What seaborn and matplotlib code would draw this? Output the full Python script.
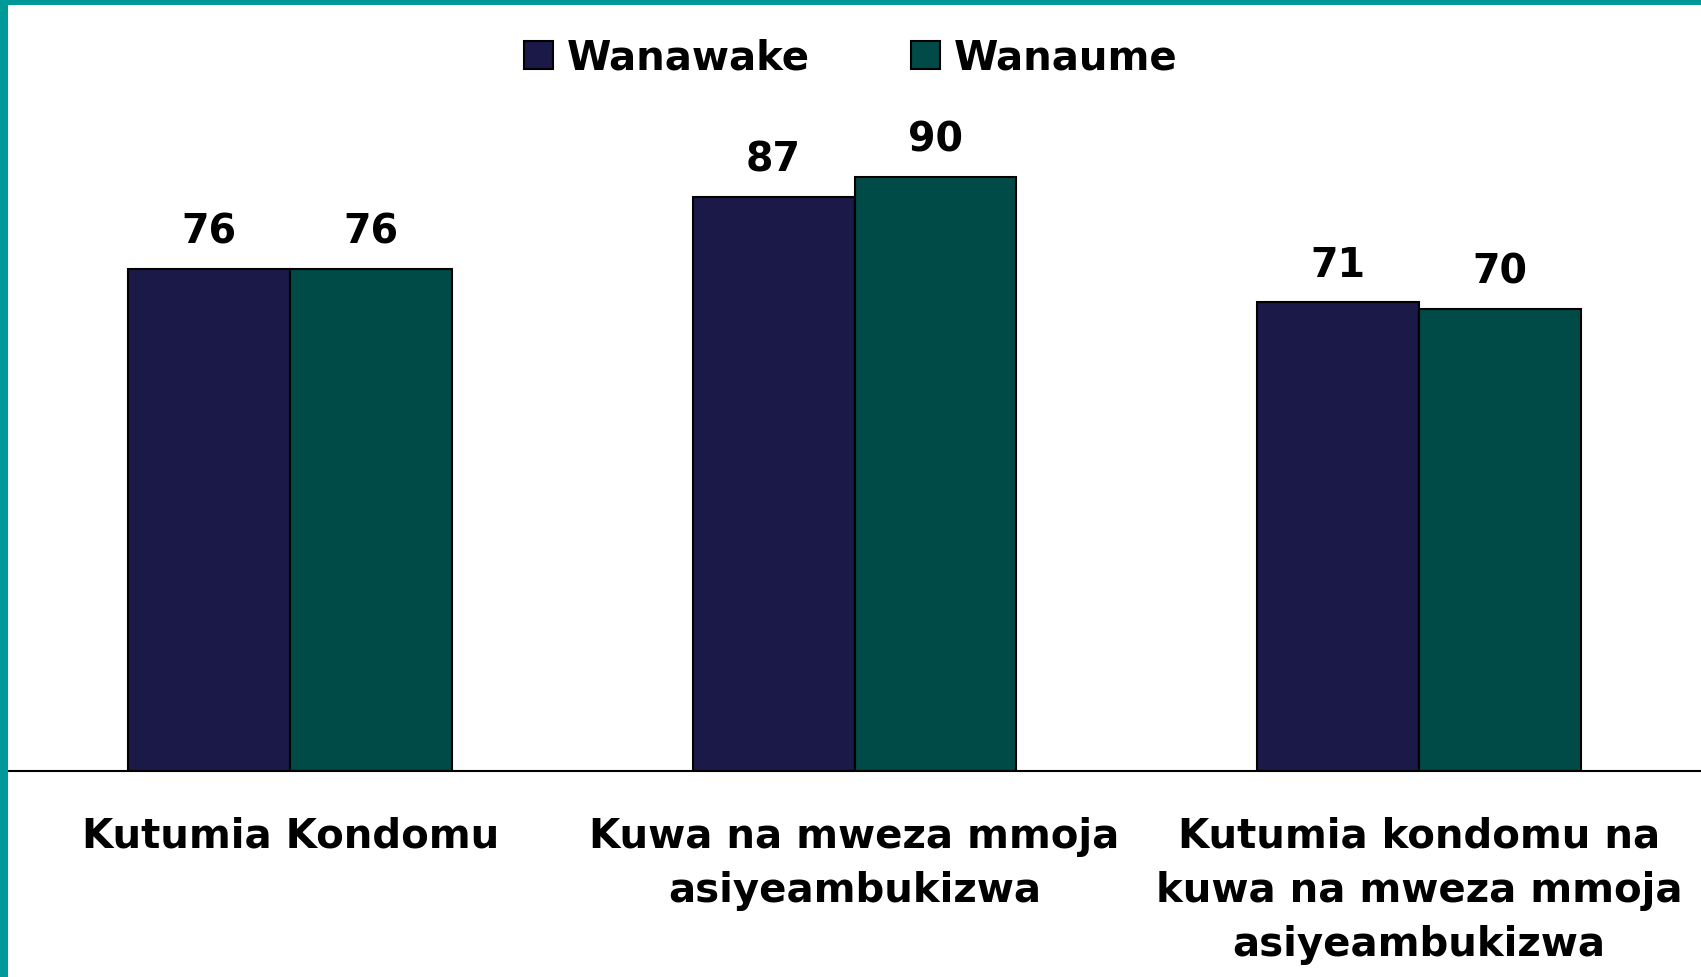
import pandas as pd
import seaborn as sns
import matplotlib.pyplot as plt
from matplotlib.patches import Rectangle

categories = ["Kutumia Kondomu",
              "Kuwa na mweza mmoja\nasiyeambukizwa",
              "Kutumia kondomu na\nkuwa na mweza mmoja\nasiyeambukizwa"]
wanawake = [76, 87, 71]
wanaume = [76, 90, 70]
groups = ["Wanawake", "Wanaume"]
colors = ["#1a1947", "#004a48"]

df = pd.DataFrame({
    "category": categories * 2,
    "group": [groups[0]] * 3 + [groups[1]] * 3,
    "value": wanawake + wanaume,
})

sns.set_style("white")
plt.rcParams["font.family"] = ["DejaVu Sans"]
plt.rcParams["font.weight"] = "bold"
plt.rcParams["text.color"] = "black"
plt.rcParams["xtick.color"] = "black"

fig = plt.figure(figsize=(17.01, 9.77), dpi=100)
ax = fig.add_axes([8 / 1701, 0.2108, 1 - 8 / 1701, 0.8864 - 0.2108])

sns.barplot(data=df, x="category", y="value", hue="group", hue_order=groups,
            palette=colors, width=0.574, edgecolor="black", linewidth=1.5,
            saturation=1, legend=False, ax=ax)

for c in ax.containers:
    ax.bar_label(c, fmt="%d", padding=12, fontsize=28.5, fontweight="bold", color="black")

ax.set_xlim(-0.5, 2.5)
ax.set_ylim(0, 100)
ax.set_xlabel("")
ax.set_ylabel("")
ax.set_yticks([])
ax.tick_params(axis="x", length=0, pad=33, labelsize=29, labelcolor="black")
for lab in ax.get_xticklabels():
    lab.set_fontweight("bold")
    lab.set_linespacing(1.46)
for s in ["top", "left", "right"]:
    ax.spines[s].set_visible(False)
ax.spines["bottom"].set_color("black")
ax.spines["bottom"].set_linewidth(1.5)

handles = [Rectangle((0, 0), 1, 1, facecolor=col, edgecolor="black", linewidth=1.5)
           for col in colors]
fig.legend(handles, groups, loc="center", bbox_to_anchor=(0.5, 1 - 58 / 977),
           ncol=2, frameon=False, handlelength=0.72, handleheight=0.72,
           handletextpad=0.35, columnspacing=2.5,
           prop={"weight": "bold", "size": 29}, labelcolor="black")

# teal frame strips on the left and top
fig.patches.append(Rectangle((0, 0), 8 / 1701, 1, transform=fig.transFigure,
                             facecolor="#009999", edgecolor="none", zorder=10))
fig.patches.append(Rectangle((0, 1 - 5 / 977), 1, 5 / 977, transform=fig.transFigure,
                             facecolor="#009999", edgecolor="none", zorder=10))

fig.savefig("out.png", dpi=100)
